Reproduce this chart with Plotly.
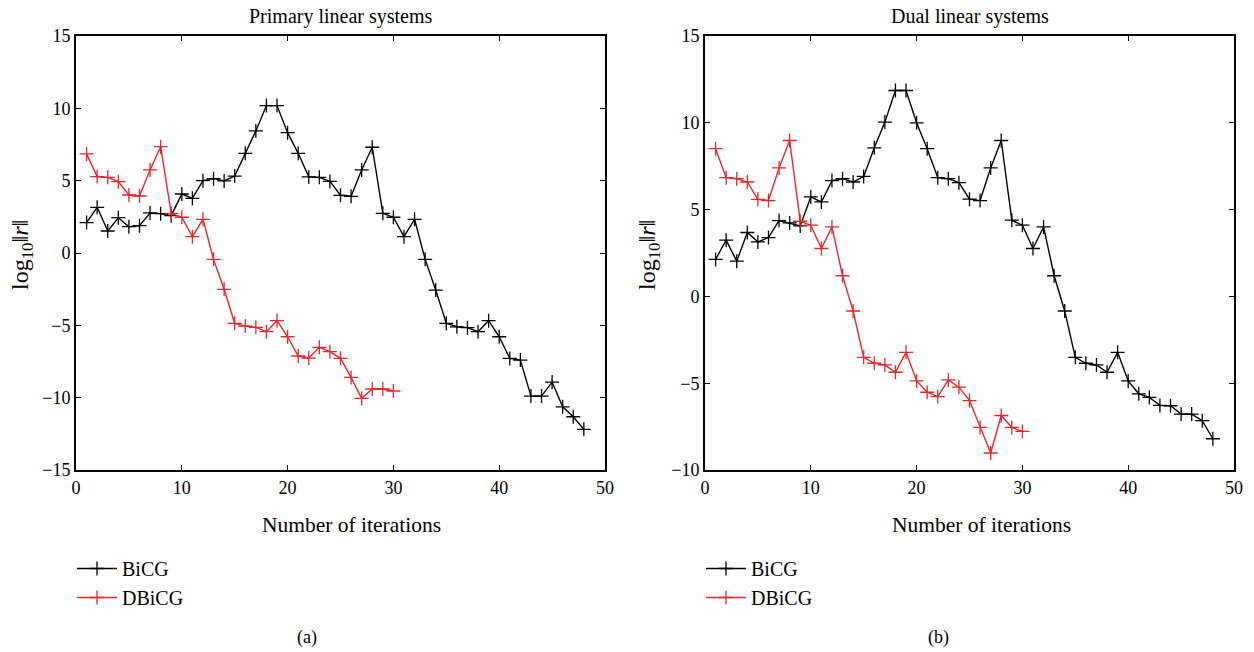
import plotly.graph_objects as go
from plotly.subplots import make_subplots

# iteration counts
iter_bicg = list(range(1, 49))
iter_dbicg = list(range(1, 31))

# (a) primary linear systems, log10 ||r||
primary_bicg = [2.1, 3.16, 1.52, 2.44, 1.82, 1.89, 2.77, 2.72, 2.58, 4.08,
                3.78, 5.0, 5.14, 4.98, 5.32, 6.89, 8.44, 10.19, 10.19, 8.32,
                6.89, 5.26, 5.23, 4.95, 3.99, 3.92, 5.74, 7.31, 2.74, 2.47,
                1.13, 2.33, -0.44, -2.56, -4.86, -5.1, -5.16, -5.44, -4.68, -5.79,
                -7.29, -7.4, -9.89, -9.89, -8.92, -10.63, -11.32, -12.19]
primary_dbicg = [6.85, 5.28, 5.23, 4.93, 4.01, 3.94, 5.74, 7.35, 2.74, 2.47,
                 1.13, 2.33, -0.44, -2.51, -4.86, -5.05, -5.14, -5.44, -4.68, -5.79,
                 -7.12, -7.26, -6.52, -6.82, -7.28, -8.6, -10.05, -9.4, -9.4, -9.54]

# (b) dual linear systems, log10 ||r||
dual_bicg = [2.13, 3.24, 2.03, 3.68, 3.14, 3.39, 4.37, 4.23, 4.06, 5.73,
             5.44, 6.67, 6.78, 6.59, 6.91, 8.56, 10.04, 11.86, 11.86, 10.0,
             8.51, 6.84, 6.78, 6.55, 5.6, 5.52, 7.4, 8.98, 4.39, 4.1,
             2.76, 4.0, 1.19, -0.84, -3.51, -3.85, -3.95, -4.37, -3.22, -4.87,
             -5.61, -5.82, -6.28, -6.3, -6.78, -6.78, -7.16, -8.2]
dual_dbicg = [8.51, 6.84, 6.78, 6.59, 5.59, 5.52, 7.4, 8.98, 4.33, 4.1,
              2.76, 4.0, 1.19, -0.84, -3.51, -3.85, -3.95, -4.37, -3.22, -4.87,
              -5.52, -5.77, -4.81, -5.23, -6.0, -7.55, -9.02, -6.86, -7.55, -7.78]

x_ticks = [0, 10, 20, 30, 40, 50]
y_ticks_a = [-15, -10, -5, 0, 5, 10, 15]
y_ticks_b = [-10, -5, 0, 5, 10, 15]

BLACK = "#000000"
RED = "#e8262b"
FONT = "Liberation Serif"

# full window size; the body margin is dropped in the page (post_script below)
W, H = 1254, 652


def px(x):
    return x / W


def py(y):
    return 1 - y / H


fig = make_subplots(rows=1, cols=2)


def add_series(x, y, name, color, col, legend):
    fig.add_trace(go.Scatter(
        x=x, y=y, name=name, mode="lines+markers",
        line=dict(color=color, width=1.4),
        marker=dict(symbol="cross-thin", size=10, line=dict(width=1.3, color=color), color=color),
        legend=legend,
    ), row=1, col=col)


add_series(iter_bicg, primary_bicg, "BiCG", BLACK, 1, "legend")
add_series(iter_dbicg, primary_dbicg, "DBiCG", RED, 1, "legend")
add_series(iter_bicg, dual_bicg, "BiCG", BLACK, 2, "legend2")
add_series(iter_dbicg, dual_dbicg, "DBiCG", RED, 2, "legend2")

ydom = [py(470), py(36)]
xdom_a = [px(76), px(605)]
xdom_b = [px(705), px(1234)]

axis_common = dict(
    showline=True, linecolor="black", linewidth=2, mirror="ticks",
    ticks="inside", ticklen=5, tickwidth=1, tickcolor="black",
    showgrid=False, zeroline=False, automargin=False,
    tickfont=dict(family=FONT, size=18, color="black"),
)

fig.update_xaxes(axis_common)
fig.update_yaxes(axis_common)
fig.update_xaxes(range=[0, 50], tickvals=x_ticks)
fig.update_layout(
    xaxis=dict(domain=xdom_a),
    xaxis2=dict(domain=xdom_b),
    yaxis=dict(domain=ydom, range=[-15, 15], tickvals=y_ticks_a),
    yaxis2=dict(domain=ydom, range=[-10, 15], tickvals=y_ticks_b),
)

ann = []
# (title x, title, x-label x, panel label x, panel label)
for tx, title, lx, ax, lab in [(341, "Primary linear systems", 351, 307, "(a)"),
                               (970, "Dual linear systems", 981, 938, "(b)")]:
    ann.append(dict(x=px(tx), y=py(17), text=title, showarrow=False,
                    font=dict(family=FONT, size=20, color="black")))
    ann.append(dict(x=px(lx), y=py(525), text="Number of iterations", showarrow=False,
                    font=dict(family=FONT, size=21.5, color="black")))
    ann.append(dict(x=px(ax), y=py(637), text=lab, showarrow=False,
                    font=dict(family=FONT, size=18, color="black")))
for xp in [22, 649]:
    ann.append(dict(x=px(xp), y=py(255), text="log<sub>10</sub>‖<i>r</i>‖", showarrow=False,
                    textangle=-90, font=dict(family=FONT, size=24, color="black")))
for a in ann:
    a.update(xref="paper", yref="paper", xanchor="center", yanchor="middle")

legend_style = dict(
    font=dict(family=FONT, size=20, color="black"),
    bgcolor="rgba(0,0,0,0)", xanchor="left", yanchor="top",
    tracegroupgap=0, itemwidth=40,
)

fig.update_layout(
    width=W, height=H,
    margin=dict(l=0, r=0, t=0, b=0, pad=0, autoexpand=False),
    plot_bgcolor="white", paper_bgcolor="white",
    annotations=ann,
    legend=dict(legend_style, x=px(72), y=py(549)),
    legend2=dict(legend_style, x=px(701), y=py(549)),
    showlegend=True,
)

fig.write_html("out.html", config={"displayModeBar": False},
               post_script="document.body.style.margin='0';")
